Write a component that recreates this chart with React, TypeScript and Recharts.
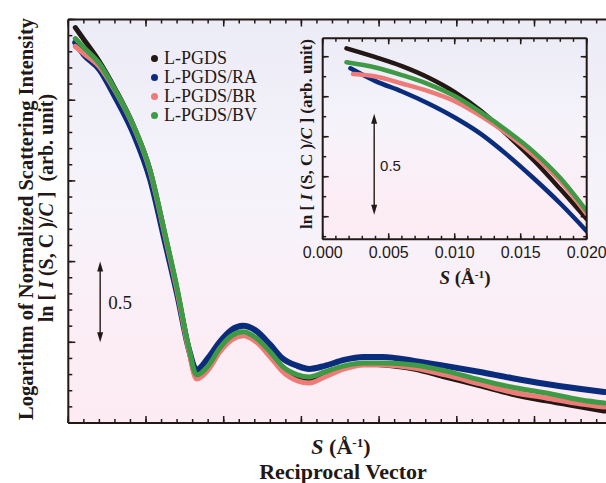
import React from 'react';
import { LineChart, Line, XAxis, YAxis, ReferenceLine } from 'recharts';

const INK = '#231815';
const SERIF = '"Liberation Serif", "Times New Roman", serif';
const SANS = '"Liberation Sans", Arial, sans-serif';

// 시료 이름과 색
const SERIES = ['L-PGDS', 'L-PGDS/RA', 'L-PGDS/BR', 'L-PGDS/BV'];
const COLORS = ['#231815', '#0a2c7c', '#ef7b78', '#3f9a45'];

// main panel: S (Å^-1) and ln[I(S,C)/C]
const mainS = [
  0.0018, 0.004, 0.008, 0.012, 0.017, 0.021, 0.025, 0.028, 0.031, 0.033,
  0.036, 0.039, 0.042, 0.045, 0.048, 0.052, 0.055, 0.059, 0.062, 0.066,
  0.071, 0.076, 0.081, 0.089, 0.097, 0.106, 0.114, 0.123, 0.132, 0.138,
];
const mainBlack = [
  -0.050, -0.124, -0.261, -0.428, -0.670, -0.930, -1.346, -1.675, -2.040, -2.215,
  -2.159, -2.047, -1.973, -1.948, -1.979, -2.078, -2.165, -2.221, -2.233, -2.202,
  -2.159, -2.134, -2.140, -2.165, -2.215, -2.270, -2.320, -2.363, -2.401, -2.426,
];
const mainRA = [
  -0.143, -0.217, -0.310, -0.478, -0.720, -0.985, -1.390, -1.700, -2.040, -2.171,
  -2.097, -1.997, -1.923, -1.898, -1.923, -2.016, -2.097, -2.146, -2.165, -2.146,
  -2.109, -2.091, -2.091, -2.115, -2.146, -2.184, -2.221, -2.258, -2.289, -2.308,
];
const mainBR = [
  -0.167, -0.211, -0.292, -0.440, -0.676, -0.937, -1.352, -1.681, -2.050, -2.227,
  -2.171, -2.060, -1.985, -1.960, -1.991, -2.091, -2.177, -2.239, -2.252, -2.215,
  -2.165, -2.140, -2.140, -2.159, -2.202, -2.258, -2.308, -2.345, -2.382, -2.401,
];
const mainBV = [
  -0.118, -0.174, -0.273, -0.434, -0.670, -0.930, -1.340, -1.663, -2.030, -2.202,
  -2.146, -2.035, -1.960, -1.935, -1.967, -2.060, -2.146, -2.202, -2.215, -2.184,
  -2.146, -2.128, -2.128, -2.140, -2.177, -2.233, -2.277, -2.314, -2.357, -2.376,
];

// inset: low-S region
const insetStartS = [0.0018, 0.0021, 0.0023, 0.0018];
const insetS = [0.004, 0.006, 0.008, 0.010, 0.012, 0.014, 0.016, 0.018, 0.020];
const insetBlack = [0.042, -0.002, -0.047, -0.104, -0.177, -0.272, -0.392, -0.519, -0.662, -0.812];
const insetRA = [-0.058, -0.122, -0.174, -0.234, -0.304, -0.387, -0.492, -0.609, -0.734, -0.872];
const insetBR = [-0.087, -0.099, -0.134, -0.172, -0.222, -0.297, -0.387, -0.494, -0.622, -0.787];
const insetBV = [-0.028, -0.054, -0.092, -0.137, -0.197, -0.279, -0.372, -0.477, -0.607, -0.772];

// axis ranges and ticks
const mainXDomain = [0, 0.14];
const mainYDomain = [-2.5, 0];
const mainXMajor = [0, 0.02, 0.04, 0.06, 0.08, 0.1, 0.12, 0.14];
const mainXMinor = Array.from({ length: 36 }, (_, i) => i * 0.004);
const mainYMajor = [-2.5, -2, -1.5, -1, -0.5, 0];
const mainYMinor = Array.from({ length: 26 }, (_, i) => -2.5 + i * 0.1);
const insetXDomain = [0, 0.02];
const insetYDomain = [-0.913, 0.092];
const insetXMajor = [0, 0.005, 0.01, 0.015, 0.02];
const insetXMinor = Array.from({ length: 21 }, (_, i) => i * 0.001);
const insetXLabels = ['0.000', '0.005', '0.010', '0.015', '0.020'];
const insetYMajor = [0, -0.2, -0.4, -0.6, -0.8];
const insetYMinor = [0, -0.1, -0.2, -0.3, -0.4, -0.5, -0.6, -0.7, -0.8, -0.9];

const mainSeries = [mainBlack, mainRA, mainBR, mainBV].map((vals) =>
  mainS.map((s, i) => ({ s, v: vals[i] }))
);
const insetSeries = [insetBlack, insetRA, insetBR, insetBV].map((vals, k) => [
  { s: insetStartS[k], v: vals[0] },
  ...insetS.map((s, i) => ({ s, v: vals[i + 1] })),
]);

// 양쪽 화살표
const DoubleArrow = (p: any) => {
  const { x1, y1, y2 } = p;
  const top = Math.min(y1, y2);
  const bot = Math.max(y1, y2);
  return (
    <g>
      <line x1={x1} y1={top + 6} x2={x1} y2={bot - 6} stroke={INK} strokeWidth={1.4} />
      <path d={`M${x1},${top} L${x1 - 3},${top + 10} L${x1 + 3},${top + 10} Z`} fill={INK} />
      <path d={`M${x1},${bot} L${x1 - 3},${bot - 10} L${x1 + 3},${bot - 10} Z`} fill={INK} />
    </g>
  );
};

// minor 눈금: 축에 붙은 짧은 선분 (px 길이를 데이터 단위로 환산)
const minorTicks = (
  xs: number[], ys: number[], xDom: number[], yDom: number[],
  plotW: number, plotH: number, px: number, sides: { right?: boolean }, prefix: string
) => {
  const dx = (px * (xDom[1] - xDom[0])) / plotW;
  const dy = (px * (yDom[1] - yDom[0])) / plotH;
  const common = { xAxisId: 'x', yAxisId: 'y', stroke: INK, strokeWidth: 1.5, ifOverflow: 'visible' as const };
  const out: React.ReactNode[] = [];
  xs.forEach((v, i) => {
    out.push(<ReferenceLine key={`${prefix}b${i}`} {...common}
      segment={[{ x: v, y: yDom[0] }, { x: v, y: yDom[0] + dy }]} />);
    out.push(<ReferenceLine key={`${prefix}t${i}`} {...common}
      segment={[{ x: v, y: yDom[1] }, { x: v, y: yDom[1] - dy }]} />);
  });
  ys.forEach((v, i) => {
    out.push(<ReferenceLine key={`${prefix}l${i}`} {...common}
      segment={[{ x: xDom[0], y: v }, { x: xDom[0] + dx, y: v }]} />);
    if (sides.right) {
      out.push(<ReferenceLine key={`${prefix}r${i}`} {...common}
        segment={[{ x: xDom[1], y: v }, { x: xDom[1] - dx, y: v }]} />);
    }
  });
  return out;
};

const Sup = ({ children }: any) => (
  <span style={{ fontSize: '0.6em', position: 'relative', top: '-0.55em' }}>{children}</span>
);

const SLabel = () => (
  <>
    <i>S</i> (Å<Sup>-1</Sup>)
  </>
);

const LnLabel = ({ gap }: { gap: string }) => (
  <>
    ln [ <i>I</i> (S, C )/<i>C</i> ]{gap}(arb. unit)
  </>
);

const abs = (left: number, top: number, extra: React.CSSProperties = {}): React.CSSProperties => ({
  position: 'absolute',
  left,
  top,
  transform: 'translate(-50%, -50%)',
  whiteSpace: 'pre',
  color: INK,
  lineHeight: 1,
  ...extra,
});

const plotBg = 'linear-gradient(to bottom, #ececf7 0%, #f6f3fa 45%, #fcedf5 80%, #fcebf3 100%)';
const noLabel = () => '';

export default function App() {
  const axisStroke = { stroke: INK, strokeWidth: 2 };
  const tickStroke = { stroke: INK, strokeWidth: 1.5 };

  // major 눈금과 테두리만 그리는 안쪽 축
  const tickAxis = (tickSize: number) => ({
    type: 'number' as const,
    interval: 0 as const,
    mirror: true,
    tick: { fontSize: 0 },
    tickFormatter: noLabel,
    tickSize,
    axisLine: axisStroke,
    tickLine: tickStroke,
    allowDataOverflow: true,
  });
  const thin = 0.01;

  return (
    <div
      style={{
        position: 'fixed',
        left: 0,
        top: 0,
        width: 606,
        height: 483,
        overflow: 'hidden',
        background: '#ffffff',
      }}
    >
      {/* main plot background */}
      <div style={{ position: 'absolute', left: 68, top: 19.5, width: 560, height: 403.5, background: plotBg }} />

      <div style={{ position: 'absolute', left: 0, top: 0 }}>
        <LineChart width={640} height={483} margin={{ top: 19.5, right: 27.8, bottom: 60, left: 68.3 }}>
          <XAxis xAxisId="x" dataKey="s" height={thin} domain={mainXDomain} ticks={mainXMajor} {...tickAxis(7)} />
          <XAxis xAxisId="xt" orientation="top" height={thin} dataKey="s" domain={mainXDomain} ticks={mainXMajor} {...tickAxis(7)} />
          <YAxis yAxisId="y" width={thin} domain={mainYDomain} ticks={mainYMajor} {...tickAxis(7)} />
          {minorTicks(mainXMinor, mainYMinor, mainXDomain, mainYDomain, 543.9, 403.5, 4, {}, 'm')}
          {mainSeries.map((d, i) => (
            <Line key={SERIES[i]} xAxisId="x" yAxisId="y" data={d} dataKey="v" name={SERIES[i]}
              type="monotone" stroke={COLORS[i]} strokeWidth={i === 1 ? 6 : 5} dot={false}
              strokeLinecap="round" strokeLinejoin="round" isAnimationActive={false} />
          ))}
          <ReferenceLine xAxisId="x" yAxisId="y"
            segment={[{ x: 0.0082, y: -1.5 }, { x: 0.0082, y: -2.0 }]} shape={DoubleArrow} />
        </LineChart>
      </div>

      {/* inset */}
      <div style={{ position: 'absolute', left: 322.7, top: 38.3, width: 264, height: 201, background: plotBg }} />
      <div style={{ position: 'absolute', left: 290, top: 20 }}>
        <LineChart width={320} height={260} margin={{ top: 18.3, right: 23.3, bottom: 0.7, left: 32.7 }}>
          <XAxis xAxisId="x" dataKey="s" height={thin} domain={insetXDomain} ticks={insetXMajor} {...tickAxis(6)} />
          <XAxis xAxisId="xl" type="number" dataKey="s" domain={insetXDomain} ticks={insetXMajor} interval={0}
            height={40} tickSize={0} tickMargin={7.4} axisLine={false} tickLine={false}
            tickFormatter={(v: number) => insetXLabels[insetXMajor.indexOf(v)] ?? v.toFixed(3)}
            tick={{ fill: INK, fontFamily: SANS, fontSize: 16 }} allowDataOverflow />
          <XAxis xAxisId="xt" orientation="top" height={thin} dataKey="s" domain={insetXDomain} ticks={insetXMajor} {...tickAxis(6)} />
          <YAxis yAxisId="y" width={thin} domain={insetYDomain} ticks={insetYMajor} {...tickAxis(6)} />
          <YAxis yAxisId="yr" orientation="right" width={thin} domain={insetYDomain} ticks={insetYMajor} {...tickAxis(6)} />
          {minorTicks(insetXMinor, insetYMinor, insetXDomain, insetYDomain, 264, 201, 3.5, { right: true }, 'i')}
          {insetSeries.map((d, i) => (
            <Line key={SERIES[i]} xAxisId="x" yAxisId="y" data={d} dataKey="v" name={SERIES[i]}
              type="monotone" stroke={COLORS[i]} strokeWidth={4.5} dot={false}
              strokeLinecap="round" strokeLinejoin="round" isAnimationActive={false} />
          ))}
          <ReferenceLine xAxisId="x" yAxisId="y"
            segment={[{ x: 0.0039, y: -0.285 }, { x: 0.0039, y: -0.79 }]} shape={DoubleArrow} />
        </LineChart>
      </div>

      {/* legend */}
      <div style={{ position: 'absolute', left: 151, top: 49, fontFamily: SERIF, fontSize: 18, color: INK }}>
        {SERIES.map((name, i) => (
          <div key={name} style={{ display: 'flex', alignItems: 'center', height: 19 }}>
            <span style={{ width: 7, height: 7, borderRadius: '50%', background: COLORS[i], marginRight: 6 }} />
            <span>{name}</span>
          </div>
        ))}
      </div>

      {/* annotations */}
      <div style={abs(120, 302, { fontFamily: SERIF, fontSize: 19 })}>0.5</div>
      <div style={abs(390.5, 165, { fontFamily: SANS, fontSize: 15 })}>0.5</div>

      {/* axis titles */}
      <div style={abs(26, 218.5, { fontFamily: SERIF, fontWeight: 'bold', fontSize: 20.5, transform: 'translate(-50%, -50%) rotate(-90deg)' })}>
        Logarithm of Normalized Scattering Intensity
      </div>
      <div style={abs(45.5, 207.5, { fontFamily: SERIF, fontWeight: 'bold', fontSize: 20, transform: 'translate(-50%, -50%) rotate(-90deg)' })}>
        <LnLabel gap="  " />
      </div>
      <div style={abs(341, 447, { fontFamily: SERIF, fontWeight: 'bold', fontSize: 22 })}>
        <SLabel />
      </div>
      <div style={abs(343, 472, { fontFamily: SERIF, fontWeight: 'bold', fontSize: 22 })}>Reciprocal Vector</div>
      <div style={abs(305.5, 134, { fontFamily: SERIF, fontWeight: 'bold', fontSize: 17, transform: 'translate(-50%, -50%) rotate(-90deg)' })}>
        <LnLabel gap=" " />
      </div>
      <div style={abs(465, 277, { fontFamily: SERIF, fontWeight: 'bold', fontSize: 19 })}>
        <SLabel />
      </div>
    </div>
  );
}
